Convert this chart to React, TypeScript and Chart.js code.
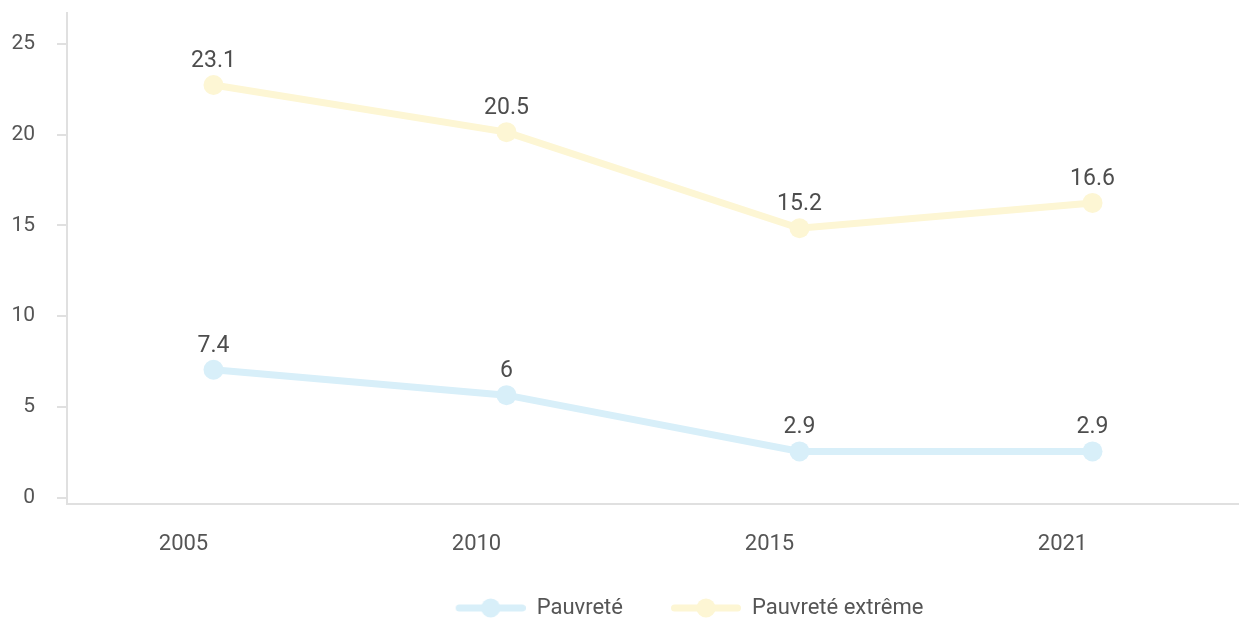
import React, { useEffect, useRef } from "react";
import { Chart, registerables } from "chart.js";

Chart.register(...registerables);

const years = ["2005", "2010", "2015", "2021"];
const pauvrete = [7.4, 6, 2.9, 2.9];
const pauvreteExtreme = [23.1, 20.5, 15.2, 16.6];
const seriesNames = ["Pauvreté", "Pauvreté extrême"];
const seriesColors = ["#d8eff9", "#fdf6d4"];
const yTickStep = 5;

const FONT = "Roboto, 'Noto Sans', sans-serif";
const LEGEND_W = 108;

function legendImage(color: string): HTMLCanvasElement {
  const c = document.createElement("canvas");
  c.width = LEGEND_W;
  c.height = 22;
  const ctx = c.getContext("2d")!;
  ctx.strokeStyle = color;
  ctx.lineWidth = 7;
  ctx.lineCap = "round";
  ctx.beginPath();
  ctx.moveTo(41.5, 11);
  ctx.lineTo(104.5, 11);
  ctx.stroke();
  ctx.fillStyle = color;
  ctx.beginPath();
  ctx.arc(73, 11, 9.5, 0, Math.PI * 2);
  ctx.fill();
  return c;
}

const dataLabelPlugin = {
  id: "dataLabels",
  afterDatasetsDraw(chart: any) {
    const ctx = chart.ctx;
    ctx.save();
    ctx.font = `23px ${FONT}`;
    ctx.fillStyle = "#4d4d4d";
    ctx.textAlign = "center";
    ctx.textBaseline = "middle";
    chart.data.datasets.forEach((ds: any, i: number) => {
      const meta = chart.getDatasetMeta(i);
      meta.data.forEach((pt: any, j: number) => {
        ctx.fillText(String(ds.data[j]), pt.x, pt.y - 24);
      });
    });
    ctx.restore();
  },
};

const legendShiftPlugin = {
  id: "legendShift",
  afterLayout(chart: any) {
    const lg = chart.legend;
    if (!lg) return;
    lg.left += 51;
    lg.right += 51;
    lg.top += 11;
    lg.bottom += 11;
  },
};

export default function App() {
  const ref = useRef<HTMLCanvasElement | null>(null);

  useEffect(() => {
    if (!ref.current) return;
    const images = seriesColors.map(legendImage);
    const chart = new Chart(ref.current, {
      type: "line",
      data: {
        labels: years,
        datasets: [
          {
            label: seriesNames[0],
            data: pauvrete,
            borderColor: seriesColors[0],
            backgroundColor: seriesColors[0],
            pointBackgroundColor: seriesColors[0],
            borderWidth: 7,
            pointRadius: 10,
            pointBorderWidth: 0,
            yAxisID: "yd",
          },
          {
            label: seriesNames[1],
            data: pauvreteExtreme,
            borderColor: seriesColors[1],
            backgroundColor: seriesColors[1],
            pointBackgroundColor: seriesColors[1],
            borderWidth: 7,
            pointRadius: 10,
            pointBorderWidth: 0,
            yAxisID: "yd",
          },
        ],
      },
      options: {
        animation: false,
        responsive: true,
        maintainAspectRatio: false,
        layout: { autoPadding: false, padding: { top: 13, left: 0, right: 0, bottom: 0 } },
        plugins: {
          tooltip: { enabled: false },
          legend: {
            position: "bottom",
            labels: {
              usePointStyle: true,
              pointStyleWidth: LEGEND_W,
              padding: 10,
              color: "#555",
              font: { size: 22, family: FONT },
              generateLabels: (c: any) => {
                const items = Chart.defaults.plugins.legend.labels.generateLabels(c);
                return items.map((it: any, i: number) => ({
                  ...it,
                  pointStyle: images[i % images.length],
                  fontColor: "#555",
                }));
              },
            },
          },
        },
        scales: {
          x: {
            type: "category",
            offset: true,
            grid: { display: true, drawOnChartArea: false, drawTicks: false },
            border: { display: true, color: "#e0e0e0", width: 2 },
            ticks: {
              color: "#555",
              font: { size: 22, family: FONT },
              padding: 27,
              labelOffset: -30,
              maxRotation: 0,
              autoSkip: false,
            },
            afterFit: (s: any) => {
              s.height = 72;
              s.paddingLeft = 0;
              s.paddingRight = 0;
            },
          },
          y: {
            type: "linear",
            position: "left",
            min: -0.358,
            max: 26.71,
            grid: {
              drawOnChartArea: false,
              drawTicks: true,
              tickLength: 10,
              color: "#e0e0e0",
              lineWidth: 2,
            },
            border: { display: true, color: "#e0e0e0", width: 2 },
            ticks: {
              stepSize: yTickStep,
              includeBounds: false,
              color: "#555",
              font: { size: 21, family: FONT },
              padding: 22,
            },
            afterBuildTicks: (s: any) => {
              s.ticks = s.ticks.filter(
                (t: any) => t.value >= 0 && Math.abs(t.value % yTickStep) < 1e-6
              );
            },
            afterFit: (s: any) => {
              s.width = 67;
              s.paddingTop = 0;
              s.paddingBottom = 0;
            },
          },
          yd: {
            type: "linear",
            display: false,
            min: 0,
            max: 27.07,
          },
        },
      },
      plugins: [dataLabelPlugin, legendShiftPlugin],
    });
    return () => chart.destroy();
  }, []);

  return (
    <div style={{ position: "absolute", left: 0, top: 0, width: 1239, height: 618 }}>
      <canvas ref={ref} />
    </div>
  );
}
